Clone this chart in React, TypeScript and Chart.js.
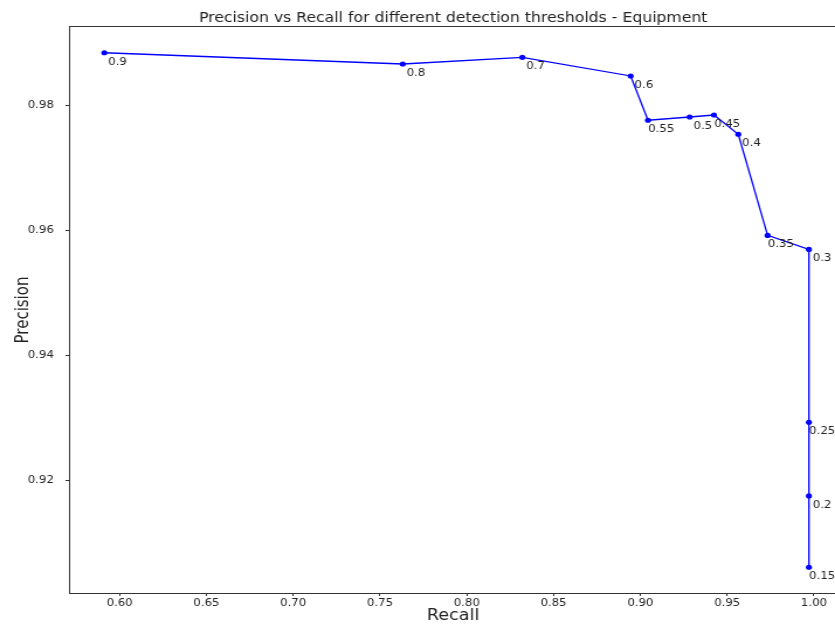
import React, { useEffect, useRef } from 'react';
import { Chart, registerables } from 'chart.js';

Chart.register(...registerables);

// Detection thresholds and the recall / precision each one gives
const thresholds = ['0.9', '0.8', '0.7', '0.6', '0.55', '0.5', '0.45', '0.4', '0.35', '0.3', '0.25', '0.2', '0.15'];
const recall = [0.5912, 0.7631, 0.832, 0.8944, 0.9044, 0.9284, 0.9424, 0.9564, 0.9733, 0.9971, 0.9971, 0.9971, 0.9971];
const precision = [0.98847, 0.98667, 0.98774, 0.98475, 0.97767, 0.97819, 0.97851, 0.97543, 0.95925, 0.95701, 0.92934, 0.91757, 0.90616];

const recallTicks = [0.6, 0.65, 0.7, 0.75, 0.8, 0.85, 0.9, 0.95, 1.0];
const precisionTicks = [0.92, 0.94, 0.96, 0.98];

const RECALL_MIN = 0.57085;
const RECALL_MAX = 1.01348;
const PRECISION_MIN = 0.90204;
const PRECISION_MAX = 0.99259;

// The figure is drawn on a narrower canvas and widened horizontally;
// its right edge runs a little past the visible frame.
const CANVAS_W = 720;
const CANVAS_H = 625;
const STRETCH_X = 1.1695;
const FRAME_W = 835;

const FONT = 'DejaVu Sans';
const INK = '#222';
const SPINE = '#333';

// Threshold value written just below and right of each point
const thresholdLabels = {
  id: 'thresholdLabels',
  afterDatasetsDraw(chart: any) {
    const { ctx } = chart;
    const meta = chart.getDatasetMeta(0);
    ctx.save();
    ctx.font = `10px "${FONT}"`;
    ctx.fillStyle = INK;
    ctx.textAlign = 'center';
    ctx.textBaseline = 'middle';
    meta.data.forEach((pt: any, i: number) => {
      ctx.fillText(thresholds[i], pt.x + 11.3, pt.y + 9.5);
    });
    ctx.restore();
  },
};

export default function App() {
  const canvasRef = useRef<HTMLCanvasElement | null>(null);

  useEffect(() => {
    if (!canvasRef.current) return;
    document.body.style.margin = '0';
    Chart.defaults.font.family = FONT;
    Chart.defaults.color = INK;

    const points = recall.map((r, i) => ({ x: r, y: precision[i] }));

    const chart = new Chart(canvasRef.current, {
      type: 'line',
      data: {
        datasets: [
          {
            data: points,
            borderColor: '#0000ff',
            backgroundColor: '#0000ff',
            borderWidth: 1.3,
            pointRadius: 2.6,
            pointBorderWidth: 0,
            pointBackgroundColor: '#0000ff',
            tension: 0,
            fill: false,
          },
        ],
      },
      options: {
        animation: false,
        responsive: true,
        maintainAspectRatio: false,
        layout: { padding: 0 },
        plugins: {
          legend: { display: false },
          tooltip: { enabled: false },
          title: {
            display: true,
            text: 'Precision vs Recall for different detection thresholds - Equipment',
            fullSize: false,
            color: INK,
            font: { size: 13.4, weight: 'normal', family: FONT },
            padding: { top: 10, bottom: 0.9 },
          },
        },
        scales: {
          x: {
            type: 'linear',
            position: 'bottom',
            min: RECALL_MIN,
            max: RECALL_MAX,
            afterBuildTicks: (s: any) => {
              s.ticks = recallTicks.map((v) => ({ value: v }));
            },
            afterFit: (s: any) => {
              s.height = 32;
              s.paddingLeft = 0;
              s.paddingRight = 0;
            },
            ticks: {
              autoSkip: false,
              maxRotation: 0,
              padding: 1,
              color: INK,
              font: { size: 10 },
              callback: (v: any) => Number(v).toFixed(2),
            },
            grid: {
              display: true,
              drawOnChartArea: false,
              drawTicks: true,
              tickLength: 3,
              tickColor: SPINE,
            },
            border: { display: true, color: SPINE, width: 1 },
            title: {
              display: true,
              text: 'Recall',
              color: INK,
              font: { size: 15 },
              padding: { top: 0, bottom: 0 },
            },
          },
          xTop: {
            type: 'linear',
            position: 'top',
            min: RECALL_MIN,
            max: RECALL_MAX,
            ticks: { display: false },
            grid: { display: false, drawTicks: false },
            border: { display: true, color: SPINE, width: 1 },
            afterFit: (s: any) => {
              s.height = 0;
            },
          },
          y: {
            type: 'linear',
            position: 'left',
            min: PRECISION_MIN,
            max: PRECISION_MAX,
            afterBuildTicks: (s: any) => {
              s.ticks = precisionTicks.map((v) => ({ value: v }));
            },
            afterFit: (s: any) => {
              s.width = 59;
            },
            ticks: {
              autoSkip: false,
              padding: 10,
              color: INK,
              font: { size: 10 },
              callback: (v: any) => Number(v).toFixed(2),
            },
            grid: {
              display: true,
              drawOnChartArea: false,
              drawTicks: true,
              tickLength: 3,
              tickColor: SPINE,
            },
            border: { display: true, color: SPINE, width: 1 },
            title: {
              display: true,
              text: 'Precision',
              color: INK,
              font: { size: 15 },
              padding: { top: 11.5, bottom: 0 },
            },
          },
        },
      },
      plugins: [thresholdLabels],
    } as any);

    return () => chart.destroy();
  }, []);

  return (
    <div
      style={{
        position: 'absolute',
        left: 0,
        top: 0,
        width: FRAME_W,
        height: CANVAS_H,
        overflow: 'hidden',
        background: '#fff',
      }}
    >
      <div
        style={{
          width: CANVAS_W,
          height: CANVAS_H,
          transform: `scaleX(${STRETCH_X})`,
          transformOrigin: '0 0',
        }}
      >
        <canvas ref={canvasRef} />
      </div>
    </div>
  );
}
